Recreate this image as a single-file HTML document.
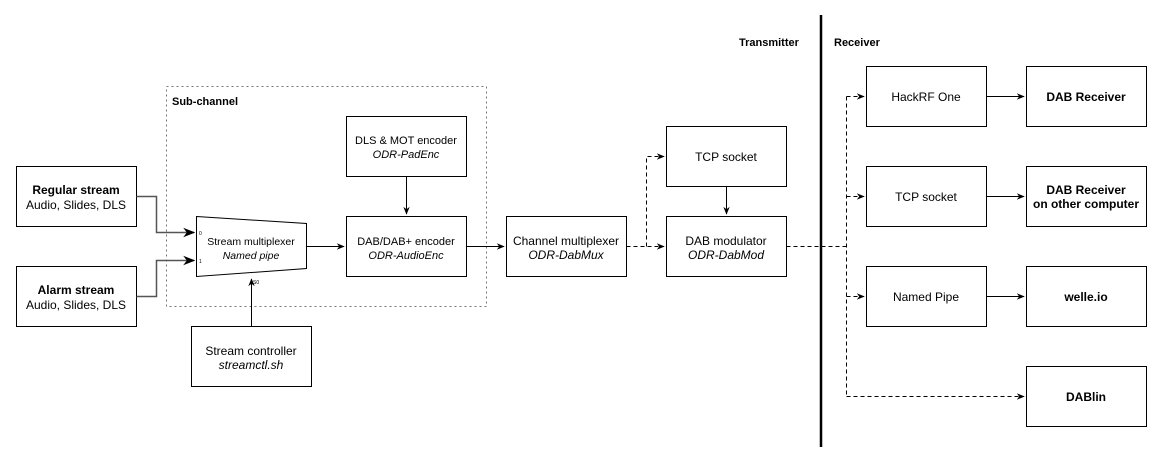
<!DOCTYPE html>
<html><head><meta charset="utf-8"><style>
html,body{margin:0;padding:0;background:#fff}
svg{display:block}
text{font-family:"Liberation Sans",Arial,sans-serif;fill:#000}
.b{font-weight:bold}.i{font-style:italic}
</style></head><body>
<svg width="1163" height="465" viewBox="0 0 1163 465" font-size="12">
<defs><marker id="a" viewBox="0 0 10 10" refX="9" refY="5" markerWidth="8" markerHeight="8" orient="auto"><path d="M0,1 L10,5 L0,9 L3,5 z" fill="#000"/></marker></defs>
<g fill="none" stroke="#000" stroke-width="1">
<rect x="166.5" y="86.5" width="320" height="220" stroke="#777" stroke-dasharray="2,3"/>
<rect x="16.5" y="166.5" width="120" height="60"/>
<rect x="16.5" y="266.5" width="120" height="60"/>
<path d="M196.5,216.5 L306.5,223.5 L306.5,268.5 L196.5,276.5 z"/>
<rect x="346.5" y="116.5" width="120" height="60"/>
<rect x="346.5" y="216.5" width="120" height="60"/>
<rect x="191.5" y="326.5" width="120" height="60"/>
<rect x="506.5" y="216.5" width="120" height="60"/>
<rect x="666.5" y="126.5" width="120" height="60"/>
<rect x="666.5" y="216.5" width="120" height="60"/>
<rect x="866.5" y="66.5" width="120" height="60"/>
<rect x="866.5" y="166.5" width="120" height="60"/>
<rect x="866.5" y="266.5" width="120" height="60"/>
<rect x="1026.5" y="66.5" width="120" height="60"/>
<rect x="1026.5" y="166.5" width="120" height="60"/>
<rect x="1026.5" y="266.5" width="120" height="60"/>
<rect x="1026.5" y="366.5" width="120" height="60"/>
<path d="M136.5,196.5 H156.5 V232.5 H194" stroke="#555" stroke-width="1.5" marker-end="url(#a)"/>
<path d="M136.5,296.5 H156.5 V260.5 H194" stroke="#555" stroke-width="1.5" marker-end="url(#a)"/>
<path d="M251.5,326.5 V279" marker-end="url(#a)"/>
<path d="M306.5,246.5 H344" marker-end="url(#a)"/>
<path d="M406.5,176.5 V214" marker-end="url(#a)"/>
<path d="M466.5,246.5 H504" marker-end="url(#a)"/>
<path d="M626.5,246.5 H664" stroke-dasharray="4,3" marker-end="url(#a)"/>
<path d="M646.5,246.5 V156.5 H664" stroke-dasharray="4,3" marker-end="url(#a)"/>
<path d="M726.5,186.5 V214" marker-end="url(#a)"/>
<path d="M786.5,246.5 H846.5" stroke-dasharray="4,3"/>
<path d="M846.5,96.5 V396.5" stroke-dasharray="4,3"/>
<path d="M846.5,96.5 H864" stroke-dasharray="4,3" marker-end="url(#a)"/>
<path d="M846.5,196.5 H864" stroke-dasharray="4,3" marker-end="url(#a)"/>
<path d="M846.5,296.5 H864" stroke-dasharray="4,3" marker-end="url(#a)"/>
<path d="M846.5,396.5 H1024" stroke-dasharray="4,3" marker-end="url(#a)"/>
<path d="M986.5,96.5 H1024" marker-end="url(#a)"/>
<path d="M986.5,196.5 H1024" marker-end="url(#a)"/>
<path d="M986.5,296.5 H1024" marker-end="url(#a)"/>
<path d="M821,15 V447" stroke-width="2.5"/>
</g>
<text x="172" y="105" class="b" font-size="11">Sub-channel</text>
<text x="739" y="46" class="b" font-size="11">Transmitter</text>
<text x="834" y="46" class="b" font-size="11">Receiver</text>
<g text-anchor="middle">
<text x="76" y="194" class="b">Regular stream</text><text x="76" y="209">Audio, Slides, DLS</text>
<text x="76" y="294" class="b">Alarm stream</text><text x="76" y="309">Audio, Slides, DLS</text>
<text x="251" y="245" font-size="10.5">Stream multiplexer</text><text x="251" y="259" class="i" font-size="10.5">Named pipe</text>
<text x="406" y="144" font-size="11">DLS &amp; MOT encoder</text><text x="406" y="158" class="i" font-size="11">ODR-PadEnc</text>
<text x="406" y="245" font-size="11">DAB/DAB+ encoder</text><text x="406" y="259" class="i" font-size="11">ODR-AudioEnc</text>
<text x="251" y="355">Stream controller</text><text x="251" y="369" class="i">streamctl.sh</text>
<text x="566" y="245">Channel multiplexer</text><text x="566" y="259" class="i">ODR-DabMux</text>
<text x="726" y="161">TCP socket</text>
<text x="726" y="245">DAB modulator</text><text x="726" y="259" class="i">ODR-DabMod</text>
<text x="926" y="101">HackRF One</text>
<text x="926" y="201">TCP socket</text>
<text x="926" y="301">Named Pipe</text>
<text x="1086" y="101" class="b">DAB Receiver</text>
<text x="1086" y="194" class="b">DAB Receiver</text><text x="1086" y="208" class="b">on other computer</text>
<text x="1086" y="301" class="b">welle.io</text>
<text x="1086" y="401" class="b">DABlin</text>
</g>
<text x="199" y="235" font-size="5">0</text>
<text x="199" y="263" font-size="5">1</text>
<text x="253" y="284" font-size="5">S0</text>
</svg>
</body></html>
